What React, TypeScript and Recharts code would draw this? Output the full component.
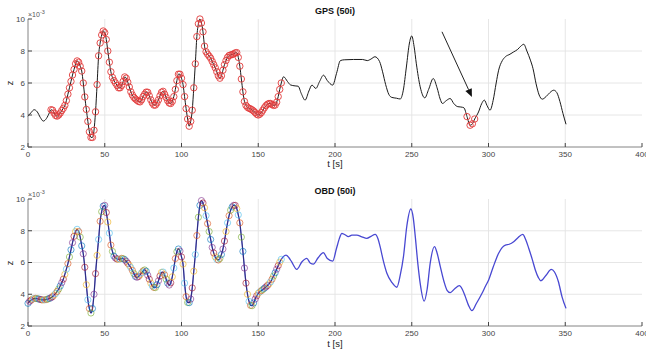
import React from 'react';
import { LineChart, Line, XAxis, YAxis, ReferenceLine } from 'recharts';

// ---------- data ----------
const gpsT = [0, 2, 4, 6, 8, 10, 12, 14,
  15, 16, 17, 18, 19, 20, 21, 22, 23, 24, 25, 26, 27, 28, 29, 30, 31, 32, 33, 34, 35, 36, 37, 38, 39, 40,
  41, 42, 43, 44, 45, 46, 47, 48, 49, 50, 51, 52, 53, 54, 55, 56, 57, 58, 59, 60, 61, 62, 63, 64, 65, 66,
  67, 68, 69, 70, 71, 72, 73, 74, 75, 76, 77, 78, 79, 80, 81, 82, 83, 84, 85, 86, 87, 88, 89, 90, 91, 92,
  93, 94, 95, 96, 97, 98, 99, 100, 101, 102, 103, 104, 105, 106, 107, 108, 109, 110, 111, 112, 113, 114,
  115, 116, 117, 118, 119, 120, 121, 122, 123, 124, 125, 126, 127, 128, 129, 130, 131, 132, 133, 134, 135,
  136, 137, 138, 139, 140, 141, 142, 143, 144, 145, 146, 147, 148, 149, 150, 151, 152, 153, 154, 155, 156,
  157, 158, 159, 160, 161, 162, 163, 164, 165,
  166.5, 169, 171, 174, 176, 178, 180.5, 183, 185, 187.5, 190, 192.5, 195, 198.5, 201, 203.5, 206, 212, 218, 221, 223.5, 226, 229, 231, 233, 235, 237, 240, 242.5, 244.5, 246.5, 248.5, 250, 251.5, 253, 255.5, 258.5, 261, 264, 266.5, 268.5, 270, 272.5, 275, 277.5, 280, 282, 284, 286, 288, 289.5, 291, 293.5, 295.5, 297.3, 299, 301, 303, 305, 306.6, 309, 311, 314, 316.5, 319, 321, 323, 325, 327.3, 329, 331, 333, 335, 337.5, 340, 342.5, 344.5, 346.5, 348.5, 350.5];
const gpsZ = [3.92, 4.15, 4.33, 4.2, 3.85, 3.62, 3.78, 4.15,
  4.33, 4.3, 4.12, 3.97, 3.93, 4.0, 4.12, 4.28, 4.42, 4.6, 4.9, 5.3, 5.7, 6.1, 6.5, 6.85, 7.2, 7.38, 7.3, 7.05, 6.75, 6.0, 5.13, 4.35, 3.6, 2.95,
  2.6, 2.6, 3.05, 4.2, 5.9, 7.7, 8.5, 9.0, 9.25, 9.15, 8.72, 8.0, 7.3, 6.7, 6.35, 6.15, 6.0, 5.85, 5.7, 5.7, 5.85, 6.1, 6.38, 6.3, 6.05, 5.75,
  5.45, 5.25, 5.1, 5.0, 4.92, 4.85, 4.82, 4.95, 5.15, 5.3, 5.43, 5.42, 5.2, 4.95, 4.75, 4.62, 4.62, 4.75, 4.95, 5.2, 5.42, 5.48, 5.3, 5.1, 4.9, 4.75,
  4.72, 4.85, 5.15, 5.6, 6.15, 6.55, 6.55, 6.3, 5.9, 5.15, 4.4, 3.75, 3.3, 3.6, 4.3, 5.7, 7.2, 8.9, 9.7, 10.0, 9.75, 9.2,
  8.3, 7.95, 7.8, 7.68, 7.55, 7.35, 7.15, 6.95, 6.7, 6.45, 6.3, 6.45, 6.8, 7.15, 7.4, 7.6, 7.72, 7.75, 7.78, 7.82, 7.88,
  7.9, 7.6, 7.05, 6.25, 5.45, 4.85, 4.6, 4.48, 4.42, 4.38, 4.32, 4.25, 4.15, 4.05, 4.0, 4.05, 4.15, 4.3, 4.45, 4.58, 4.67,
  4.72, 4.72, 4.65, 4.6, 4.62, 4.8, 5.15, 5.6, 6.0,
  6.39, 6.1, 5.88, 5.82, 5.8, 5.35, 4.93, 5.5, 5.87, 5.66, 6.1, 6.49, 6.15, 5.87, 6.6, 7.4, 7.45, 7.47, 7.47, 7.4, 7.5, 7.64, 7.35, 6.7, 5.9, 5.3, 5.1, 5.05, 5.0, 5.55, 7.0, 8.5, 8.94, 8.3, 7.2, 5.76, 5.07, 5.6, 6.28, 5.7, 5.0, 4.72, 4.9, 5.03, 4.7, 4.52, 4.5, 4.45, 3.9, 3.36, 3.45, 3.75, 4.19, 4.7, 4.93, 4.6, 4.3, 4.9, 6.0, 6.8, 7.4, 7.64, 7.8, 7.95, 8.1, 8.3, 8.42, 8.0, 7.43, 6.9, 5.95, 5.25, 4.99, 5.15, 5.4, 5.55, 5.4, 4.85, 4.1, 3.42];

const obdT = [0, 1, 2, 3, 4, 5, 6, 7, 8, 9, 10, 11, 12, 13, 14, 15, 16, 17, 18, 19, 20, 21, 22, 23, 24, 25,
  26, 27, 28, 29, 30, 31, 32, 33, 34, 35, 36, 37, 38, 39, 40, 41, 42, 43, 44, 45, 46, 47, 48, 49, 50, 51,
  52, 53, 54, 55, 56, 57, 58, 59, 60, 61, 62, 63, 64, 65, 66, 67, 68, 69, 70, 71, 72, 73, 74, 75, 76, 77,
  78, 79, 80, 81, 82, 83, 84, 85, 86, 87, 88, 89, 90, 91, 92, 93, 94, 95, 96, 97, 98, 99, 100, 101, 102,
  103, 104, 105, 106, 107, 108, 109, 110, 111, 112, 113, 114, 115, 116, 117, 118, 119, 120, 121, 122, 123,
  124, 125, 126, 127, 128, 129, 130, 131, 132, 133, 134, 135, 136, 137, 138, 139, 140, 141, 142, 143, 144,
  145, 146, 147, 148, 149, 150, 151, 152, 153, 154, 155, 156, 157, 158, 159, 160, 161, 162, 163, 164, 165,
  168.1, 170, 171.7, 175.1, 178.5, 181.6, 184, 185.9, 189, 192.4, 195, 198.5, 201, 203.3, 204.4, 206.5, 208.7, 211, 214.2, 217.5, 220.7, 223.5, 226.2, 228, 229.4, 231.5, 233.8, 237, 240.3, 242.5, 244.6, 246.8, 249.4, 251, 252.3, 254, 255.5, 258.1, 260, 262, 264.8, 266.5, 268.6, 271, 273, 275.1, 278, 281, 283, 284.9, 287, 289.2, 292, 295.8, 298, 300.1, 303, 306.6, 309, 311, 313.5, 316.4, 319, 322.3, 324.2, 326.2, 328.5, 330.5, 332.5, 334.2, 337.5, 340.9, 343, 345.5, 348, 350.5];
const obdZ = [3.43, 3.55, 3.63, 3.7, 3.73, 3.74, 3.72, 3.7, 3.67, 3.65, 3.64, 3.65, 3.67, 3.7, 3.74, 3.78, 3.85, 3.95, 4.05, 4.18, 4.33, 4.52, 4.73, 4.95, 5.25, 5.58,
  5.93, 6.35, 6.8, 7.25, 7.65, 7.95, 8.09, 7.95, 7.6, 7.05, 6.55, 5.7, 4.6, 3.65, 3.1, 2.82, 3.1, 4.0, 5.3, 6.45, 7.45, 8.6, 9.2, 9.55, 9.6, 9.15,
  8.55, 7.85, 7.1, 6.7, 6.4, 6.28, 6.22, 6.2, 6.22, 6.26, 6.24, 6.18, 6.08, 5.95, 5.82, 5.68, 5.5, 5.3, 5.12, 5.07, 5.12, 5.22, 5.35, 5.47, 5.53, 5.45,
  5.2, 4.95, 4.7, 4.52, 4.43, 4.42, 4.6, 4.85, 5.15, 5.38, 5.4, 5.22, 4.95, 4.7, 4.58, 4.72, 5.1, 5.65, 6.25, 6.68, 6.85, 6.72, 6.35, 5.9, 4.7,
  3.85, 3.48, 3.47, 3.7, 4.4, 5.45, 6.5, 7.7, 8.85, 9.6, 9.9, 9.75, 9.45, 8.95, 8.45, 7.95, 7.45, 6.95, 6.6, 6.35, 6.2,
  6.16, 6.25, 6.5, 6.85, 7.35, 7.95, 8.5, 8.95, 9.3, 9.5, 9.6, 9.6, 9.4, 9.0, 8.5, 7.6, 6.7, 5.65, 4.7, 4.0, 3.55,
  3.3, 3.28, 3.45, 3.7, 3.9, 4.06, 4.15, 4.22, 4.3, 4.38, 4.46, 4.55, 4.65, 4.78, 4.95, 5.15, 5.35, 5.58, 5.8, 6.02, 6.2,
  6.47, 6.3, 6.05, 5.57, 6.05, 6.26, 5.95, 5.9, 6.3, 6.62, 6.25, 6.09, 6.9, 7.63, 7.84, 7.75, 7.63, 7.72, 7.73, 7.62, 7.52, 7.65, 7.77, 7.5, 7.0, 6.1, 5.32, 4.75, 4.44, 5.2, 6.37, 8.3, 9.37, 8.8, 7.63, 5.9, 4.69, 3.57, 4.3, 5.95, 7.0, 6.6, 5.74, 4.8, 4.25, 4.1, 4.35, 4.54, 4.3, 3.85, 3.3, 2.97, 3.4, 4.06, 4.5, 4.9, 5.7, 6.58, 6.95, 7.1, 7.15, 7.31, 7.55, 7.77, 7.45, 6.9, 6.2, 5.53, 5.05, 4.85, 5.2, 5.57, 5.4, 4.8, 3.8, 3.11];

const xTicks = [0, 50, 100, 150, 200, 250, 300, 350, 400];
const yTicks = [2, 4, 6, 8, 10];
const gpsMarkRanges = [[15, 165], [286, 292]];
const obdMarkRanges = [[0, 165]];
const arrowFrom = [269.7, 9.2];
const arrowTo = [289.2, 5.13];
const markerPalette = ['#0072BD', '#D95319', '#EDB120', '#7E2F8E', '#77AC30', '#4DBEEE', '#A2142F'];

const gpsData = gpsT.map((t, i) => ({ t, z: gpsZ[i] }));
const obdData = obdT.map((t, i) => ({ t, z: obdZ[i] }));
const obdObserved = obdData.filter((d) => d.t <= obdMarkRanges[0][1]);

const inRanges = (t: number, ranges: number[][]) => ranges.some(([a, b]) => t >= a && t <= b);

const FONT = '"Liberation Sans", Arial, Helvetica, sans-serif';
const GRID = '#e3e3e3';

const ArrowShape = (props: any) => {
  const { x1, y1, x2, y2 } = props;
  const ang = Math.atan2(y2 - y1, x2 - x1);
  const L = 8;
  const W = 3.5;
  const bx = x2 - L * Math.cos(ang);
  const by = y2 - L * Math.sin(ang);
  const px = -Math.sin(ang) * W;
  const py = Math.cos(ang) * W;
  return (
    <g>
      <line x1={x1} y1={y1} x2={bx} y2={by} stroke="#222" strokeWidth={1} />
      <polygon points={`${x2},${y2} ${bx + px},${by + py} ${bx - px},${by - py}`} fill="#111" />
    </g>
  );
};

const emptyTick = () => <g />;

const gpsDot = (props: any) => {
  const { cx, cy, payload, index } = props;
  if (!inRanges(payload.t, gpsMarkRanges)) return <g key={`g${index}`} />;
  return <circle key={`g${index}`} cx={cx} cy={cy} r={3.2} fill="none" stroke="#e23a3a" strokeWidth={0.9} />;
};

const obdDot = (props: any) => {
  const { cx, cy, payload, index } = props;
  if (!inRanges(payload.t, obdMarkRanges)) return <g key={`o${index}`} />;
  const c = markerPalette[(index * 3) % markerPalette.length];
  return <circle key={`o${index}`} cx={cx} cy={cy} r={3.1} fill="none" stroke={c} strokeWidth={0.9} strokeOpacity={0.7} />;
};

const tickStyle = { fontSize: 8, fill: '#444', fontFamily: FONT };

function Panel({ kind }: { kind: 'gps' | 'obd' }) {
  const data = kind === 'gps' ? gpsData : obdData;
  return (
    <LineChart width={646} height={178} data={data} margin={{ top: 19, right: 4, left: 0, bottom: 0 }}>
      <XAxis
        xAxisId="b"
        dataKey="t"
        type="number"
        domain={[0, 400]}
        ticks={xTicks}
        height={kind === 'gps' ? 31 : 32}
        tickSize={-4}
        tickMargin={8}
        tick={tickStyle}
        axisLine={{ stroke: '#666', strokeWidth: 0.8 }}
        tickLine={{ stroke: '#444' }}
        interval={0}
      />
      <XAxis
        xAxisId="top"
        orientation="top"
        dataKey="t"
        type="number"
        domain={[0, 400]}
        ticks={xTicks}
        height={0}
        tickSize={-4}
        tick={emptyTick}
        axisLine={{ stroke: '#666', strokeWidth: 0.8 }}
        tickLine={{ stroke: '#444' }}
      />
      <YAxis
        yAxisId="l"
        type="number"
        domain={[2, 10]}
        ticks={yTicks}
        width={28}
        tickSize={-4}
        tickMargin={7}
        tick={tickStyle}
        axisLine={{ stroke: '#666', strokeWidth: 0.8 }}
        tickLine={{ stroke: '#444' }}
        interval={0}
      />
      <YAxis
        yAxisId="r"
        orientation="right"
        type="number"
        domain={[2, 10]}
        ticks={yTicks}
        width={0}
        tickSize={-4}
        tick={emptyTick}
        axisLine={{ stroke: '#666', strokeWidth: 0.8 }}
        tickLine={{ stroke: '#444' }}
      />
      {xTicks.slice(1, -1).map((v) => (
        <ReferenceLine key={`vx${v}`} xAxisId="b" yAxisId="l" x={v} stroke={GRID} strokeWidth={0.9} />
      ))}
      {yTicks.slice(1, -1).map((v) => (
        <ReferenceLine key={`hy${v}`} xAxisId="b" yAxisId="l" y={v} stroke={GRID} strokeWidth={0.9} />
      ))}
      {kind === 'gps' ? (
        <>
          <Line xAxisId="b" yAxisId="l" type="monotone" dataKey="z" stroke="#1a1a1a" strokeWidth={1} dot={gpsDot} isAnimationActive={false} />
          <ReferenceLine
            xAxisId="b"
            yAxisId="l"
            segment={[{ x: arrowFrom[0], y: arrowFrom[1] }, { x: arrowTo[0], y: arrowTo[1] }]}
            shape={ArrowShape}
            ifOverflow="visible"
          />
        </>
      ) : (
        <>
          <Line xAxisId="b" yAxisId="l" type="monotone" dataKey="z" stroke="#4848d2" strokeWidth={1.3} dot={false} isAnimationActive={false} />
          <Line xAxisId="b" yAxisId="l" type="monotone" data={obdObserved} dataKey="z" stroke="#1a1a40" strokeWidth={0.6} dot={false} isAnimationActive={false} />
          <Line xAxisId="b" yAxisId="l" type="monotone" dataKey="z" stroke="none" dot={obdDot} isAnimationActive={false} />
        </>
      )}
    </LineChart>
  );
}

const txt = (extra: React.CSSProperties): React.CSSProperties => ({
  position: 'absolute',
  fontFamily: FONT,
  color: '#222',
  whiteSpace: 'nowrap',
  lineHeight: 1,
  ...extra,
});

function Labels({ top, title }: { top: number; title: string }) {
  return (
    <>
      <div style={txt({ left: 335, top: top + 7, fontSize: 9, fontWeight: 'bold', transform: 'translateX(-50%)', color: '#111' })}>{title}</div>
      <div style={txt({ left: 28, top: top + 10, fontSize: 7, color: '#555' })}>
        ×10<sup style={{ fontSize: 5.5, verticalAlign: 'super' }}>-3</sup>
      </div>
      <div style={txt({ left: 10, top: top + 83, fontSize: 9, transform: 'translate(-50%, -50%) rotate(-90deg)' })}>z</div>
      <div style={txt({ left: 335, top: top + 159, fontSize: 9.5, transform: 'translateX(-50%)' })}>t [s]</div>
    </>
  );
}

export default function App() {
  return (
    <div style={{ position: 'absolute', left: 0, top: 0, width: 646, height: 356, background: '#fff', overflow: 'hidden' }}>
      <div style={{ position: 'absolute', left: 0, top: 0 }}>
        <Panel kind="gps" />
      </div>
      <div style={{ position: 'absolute', left: 0, top: 180 }}>
        <Panel kind="obd" />
      </div>
      <Labels top={0} title="GPS (50i)" />
      <Labels top={180} title="OBD (50i)" />
    </div>
  );
}
